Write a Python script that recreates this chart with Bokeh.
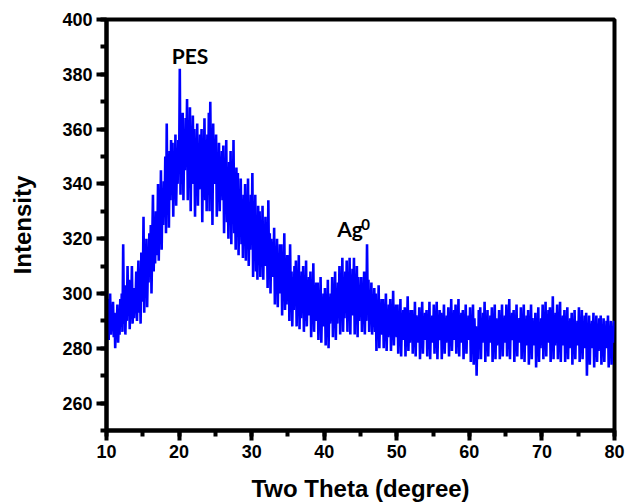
import numpy as np
from bokeh.plotting import figure
from bokeh.models import Range1d, SingleIntervalTicker
from bokeh.core.properties import value
from bokeh.embed import file_html
from bokeh.resources import INLINE

# Intensity, 0.1 degree steps from 10.0 to 80.0 (one row per degree)
intensity = [
    304, 286, 298, 283, 295, 300, 285, 292, 288, 297,
    284, 293, 280, 291, 286, 296, 282, 290, 285, 298,
    288, 300, 286, 318, 289, 303, 285, 296, 290, 310,
    292, 305, 287, 300, 294, 310, 289, 302, 291, 299,
    296, 308, 290, 303, 312, 293, 306, 289, 315, 297,
    300, 328, 293, 314, 302, 320, 295, 310, 304, 322,
    306, 325, 300, 318, 336, 308, 322, 311, 330, 314,
    318, 340, 312, 332, 322, 345, 316, 336, 325, 341,
    328, 350, 322, 362, 330, 346, 324, 352, 334, 356,
    338, 355, 328, 350, 336, 358, 332, 348, 340, 356,
    344, 382, 336, 360, 340, 366, 334, 355, 345, 364,
    350, 371, 334, 362, 342, 368, 330, 358, 346, 365,
    340, 360, 328, 356, 344, 362, 332, 354, 338, 358,
    344, 360, 326, 352, 340, 364, 334, 356, 330, 358,
    338, 366, 330, 370, 342, 358, 325, 362, 340, 356,
    346, 358, 328, 350, 336, 355, 330, 348, 340, 352,
    334, 354, 322, 346, 330, 356, 326, 344, 320, 348,
    330, 352, 318, 344, 326, 356, 322, 340, 316, 346,
    326, 344, 314, 338, 322, 342, 318, 334, 313, 336,
    320, 340, 312, 334, 318, 342, 310, 330, 316, 336,
    318, 344, 306, 330, 314, 336, 308, 326, 305, 332,
    314, 330, 306, 324, 312, 332, 305, 322, 310, 328,
    310, 326, 302, 334, 308, 322, 300, 320, 306, 318,
    306, 324, 296, 316, 302, 320, 295, 312, 300, 318,
    300, 318, 292, 312, 298, 322, 294, 310, 296, 314,
    298, 314, 290, 318, 295, 308, 288, 306, 294, 310,
    296, 312, 288, 306, 292, 314, 287, 304, 291, 308,
    294, 310, 286, 304, 290, 312, 288, 302, 292, 306,
    292, 308, 284, 302, 289, 311, 286, 300, 290, 304,
    290, 304, 283, 298, 287, 306, 282, 296, 288, 300,
    288, 302, 281, 296, 286, 305, 280, 298, 289, 300,
    290, 306, 284, 300, 292, 308, 283, 298, 289, 304,
    292, 310, 285, 304, 294, 313, 286, 302, 291, 308,
    294, 312, 286, 306, 290, 313, 285, 304, 296, 309,
    292, 313, 285, 304, 294, 310, 284, 306, 290, 302,
    292, 306, 286, 300, 294, 308, 285, 302, 290, 318,
    294, 305, 286, 300, 290, 304, 285, 298, 288, 302,
    286, 300, 279, 296, 284, 303, 280, 294, 287, 298,
    285, 298, 280, 293, 287, 300, 279, 292, 284, 296,
    286, 298, 279, 294, 284, 301, 281, 292, 285, 296,
    284, 296, 278, 292, 282, 298, 277, 290, 285, 294,
    283, 295, 277, 291, 285, 299, 279, 290, 282, 294,
    284, 294, 278, 290, 282, 297, 277, 292, 285, 289,
    282, 295, 276, 290, 284, 297, 278, 288, 283, 293,
    283, 294, 277, 291, 282, 297, 276, 289, 284, 292,
    282, 296, 278, 290, 284, 297, 276, 288, 283, 294,
    283, 293, 276, 289, 285, 296, 278, 290, 282, 292,
    284, 295, 277, 291, 282, 298, 279, 289, 285, 294,
    283, 296, 278, 290, 284, 298, 277, 292, 282, 293,
    282, 294, 276, 289, 284, 296, 278, 290, 283, 292,
    283, 295, 275, 290, 281, 296, 274, 291, 279, 288,
    270, 287, 276, 294, 280, 295, 276, 290, 282, 293,
    284, 297, 275, 290, 282, 294, 277, 289, 283, 292,
    282, 295, 275, 289, 284, 296, 276, 291, 281, 290,
    283, 294, 276, 290, 282, 296, 277, 288, 284, 292,
    282, 296, 277, 291, 284, 298, 276, 290, 283, 293,
    283, 294, 275, 289, 282, 296, 277, 290, 284, 291,
    282, 295, 276, 288, 283, 296, 275, 290, 281, 292,
    283, 294, 274, 289, 281, 296, 276, 291, 282, 290,
    281, 293, 273, 288, 282, 295, 275, 289, 280, 291,
    283, 296, 276, 290, 282, 297, 277, 292, 284, 294,
    282, 295, 275, 290, 283, 299, 276, 291, 281, 293,
    283, 296, 276, 289, 282, 297, 275, 290, 284, 292,
    281, 294, 275, 288, 283, 295, 276, 290, 280, 291,
    282, 293, 274, 289, 281, 294, 276, 288, 283, 290,
    281, 295, 275, 288, 282, 294, 276, 290, 280, 292,
    282, 293, 270, 287, 280, 292, 274, 289, 281, 290,
    280, 293, 273, 288, 282, 292, 275, 289, 279, 291,
    281, 292, 274, 287, 280, 291, 275, 288, 282, 290,
    280, 292, 273, 287, 281, 290, 274, 288, 282, 289,
    290,
]
two_theta = np.round(10.0 + 0.1 * np.arange(len(intensity)), 1)

p = figure(width=633, height=504, output_backend="svg", toolbar_location=None,
           x_range=Range1d(10, 80), y_range=Range1d(250, 400),
           min_border_left=106, min_border_right=19, min_border_top=19, min_border_bottom=73)
p.grid.visible = False
p.background_fill_color = "white"
p.border_fill_color = "white"
p.outline_line_color = "black"
p.outline_line_width = 4

p.line(two_theta, intensity, line_color="#0000FF", line_width=2.6)

p.xaxis.ticker = SingleIntervalTicker(interval=10, num_minor_ticks=2)
p.yaxis.ticker = SingleIntervalTicker(interval=20, num_minor_ticks=2)

for ax in (p.xaxis[0], p.yaxis[0]):
    ax.axis_line_width = 4
    ax.axis_line_color = "black"
    ax.major_tick_line_width = 4
    ax.minor_tick_line_width = 4
    ax.major_tick_line_color = "black"
    ax.minor_tick_line_color = "black"
    ax.major_tick_in = 0
    ax.major_tick_out = 10
    ax.minor_tick_in = 0
    ax.minor_tick_out = 6
    ax.major_label_text_font = "Liberation Sans"
    ax.major_label_text_font_style = "bold"
    ax.major_label_text_font_size = "18px"
    ax.major_label_text_color = "black"
    ax.axis_label_text_font = "Liberation Sans"
    ax.axis_label_text_font_style = "bold"
    ax.axis_label_text_font_size = "24px"
    ax.axis_label_text_color = "black"

p.xaxis.axis_label = "Two Theta (degree)"
p.yaxis.axis_label = "Intensity"
p.xaxis.major_label_standoff = 4
p.yaxis.major_label_standoff = 4
p.xaxis.axis_label_standoff = 14
p.yaxis.axis_label_standoff = 23

p.text(x=[21.5], y=[386.8], text=["PES"], text_font=value("Lato"), text_font_style="bold",
       text_font_size="21px", text_align="center", text_baseline="alphabetic", text_color="black")
p.text(x=[41.8], y=[323.9], text=["Ag"], text_font=value("Lato"), text_font_style="bold",
       text_font_size="21px", text_align="left", text_baseline="alphabetic", text_color="black")
p.text(x=[45.1], y=[325.2], text=["0"], text_font=value("Lato"), text_font_style="bold",
       text_font_size="15px", text_align="left", text_baseline="alphabetic", text_color="black")

open("out.html", "w").write(file_html(p, INLINE))
